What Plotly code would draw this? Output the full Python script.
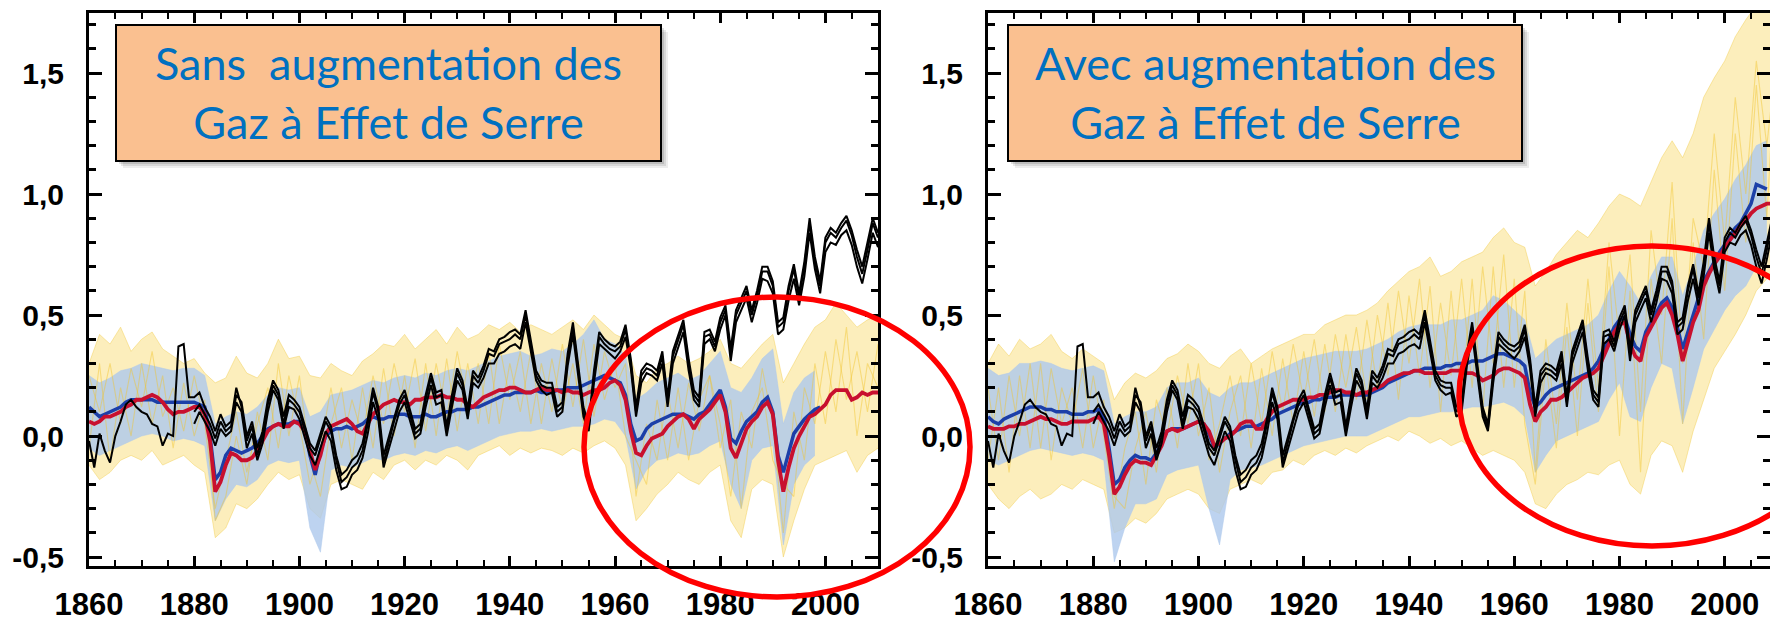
import plotly.graph_objects as go

# ---------------- data ----------------
years = list(range(1860, 2011))            # observations, annual
years_b = list(range(1880, 2011))          # second & third observational datasets
model_years = list(range(1860, 2011, 2))   # ensemble envelopes / members (2-year)
blue_years_L = list(range(1860, 2000))
blue_years_R = list(range(1860, 2009))
env_blue_years_L = list(range(1860, 1999, 2))
env_blue_years_R = list(range(1860, 2009, 2))

obs_a = [-0.02, -0.13, 0.01, -0.06, -0.11, 0.00, 0.06, 0.13, 0.15, 0.12,
         0.10, 0.09, 0.05, 0.04, -0.04, 0.01, 0.00, 0.37, 0.38, 0.16,
         0.16, 0.18, 0.12, 0.08, 0.02, 0.09, 0.04, 0.06, 0.20, 0.12,
         -0.02, 0.04, -0.08, 0.00, 0.13, 0.21, 0.17, 0.05, 0.15, 0.13,
         0.10, 0.02, -0.05, -0.08, -0.01, 0.06, 0.02, -0.10, -0.19, -0.17,
         -0.13, -0.11, -0.06, 0.05, 0.18, 0.10, -0.11, -0.02, 0.06, 0.13,
         0.17, 0.09, 0.01, 0.03, 0.15, 0.24, 0.16, 0.17, 0.02, 0.15,
         0.26, 0.21, 0.09, 0.25, 0.22, 0.27, 0.34, 0.33, 0.38, 0.39,
         0.40, 0.42, 0.40, 0.50, 0.38, 0.25, 0.21, 0.20, 0.20, 0.10,
         0.12, 0.32, 0.45, 0.27, 0.10, 0.03, 0.25, 0.41, 0.38, 0.36,
         0.35, 0.37, 0.44, 0.30, 0.10, 0.25, 0.28, 0.27, 0.25, 0.33,
         0.14, 0.33, 0.40, 0.46, 0.30, 0.17, 0.14, 0.41, 0.42, 0.37,
         0.47, 0.52, 0.34, 0.50, 0.55, 0.60, 0.50, 0.58, 0.68, 0.68,
         0.62, 0.45, 0.47, 0.60, 0.69, 0.57, 0.70, 0.88, 0.72, 0.62,
         0.80, 0.84, 0.82, 0.86, 0.89, 0.83, 0.74, 0.67, 0.77, 0.88,
         0.82]

obs_b = [0.05, 0.10, 0.06, 0.02, -0.04, 0.03, 0.00, 0.02, 0.14, 0.10,
         -0.05, 0.01, -0.10, -0.03, 0.10, 0.19, 0.15, 0.03, 0.12, 0.11,
         0.07, -0.01, -0.08, -0.12, -0.05, 0.02, -0.02, -0.14, -0.22, -0.21,
         -0.16, -0.14, -0.09, 0.01, 0.14, 0.07, -0.13, -0.05, 0.03, 0.10,
         0.14, 0.07, -0.01, 0.01, 0.12, 0.21, 0.13, 0.14, 0.00, 0.12,
         0.23, 0.19, 0.07, 0.22, 0.20, 0.24, 0.30, 0.30, 0.34, 0.35,
         0.37, 0.38, 0.36, 0.47, 0.35, 0.23, 0.19, 0.17, 0.18, 0.08,
         0.10, 0.29, 0.42, 0.25, 0.08, 0.02, 0.22, 0.38, 0.36, 0.34,
         0.32, 0.35, 0.41, 0.28, 0.08, 0.22, 0.26, 0.25, 0.23, 0.30,
         0.12, 0.30, 0.37, 0.43, 0.27, 0.15, 0.12, 0.38, 0.40, 0.35,
         0.44, 0.50, 0.31, 0.47, 0.52, 0.57, 0.47, 0.55, 0.65, 0.64,
         0.59, 0.42, 0.44, 0.56, 0.65, 0.54, 0.66, 0.84, 0.69, 0.59,
         0.76, 0.80, 0.79, 0.83, 0.85, 0.79, 0.70, 0.63, 0.73, 0.84,
         0.78]

obs_c = [0.10, 0.13, 0.09, 0.05, -0.01, 0.06, 0.02, 0.04, 0.17, 0.14,
         0.00, 0.06, -0.05, 0.02, 0.15, 0.23, 0.19, 0.08, 0.17, 0.15,
         0.12, 0.04, -0.03, -0.06, 0.01, 0.08, 0.04, -0.08, -0.16, -0.14,
         -0.10, -0.08, -0.03, 0.07, 0.20, 0.12, -0.08, 0.00, 0.08, 0.15,
         0.19, 0.11, 0.03, 0.05, 0.17, 0.26, 0.18, 0.19, 0.04, 0.17,
         0.28, 0.23, 0.11, 0.27, 0.24, 0.29, 0.36, 0.35, 0.40, 0.41,
         0.43, 0.44, 0.42, 0.52, 0.40, 0.27, 0.23, 0.22, 0.22, 0.12,
         0.14, 0.34, 0.47, 0.29, 0.12, 0.05, 0.27, 0.43, 0.40, 0.38,
         0.37, 0.39, 0.46, 0.32, 0.12, 0.27, 0.30, 0.29, 0.27, 0.35,
         0.16, 0.35, 0.42, 0.48, 0.32, 0.19, 0.16, 0.43, 0.44, 0.39,
         0.49, 0.54, 0.36, 0.52, 0.57, 0.62, 0.52, 0.60, 0.70, 0.70,
         0.64, 0.47, 0.49, 0.62, 0.71, 0.59, 0.72, 0.90, 0.74, 0.64,
         0.82, 0.86, 0.84, 0.88, 0.91, 0.85, 0.77, 0.70, 0.80, 0.90,
         0.84]

# natural forcings only (left panel): multi-model means
red_L = [0.06, 0.05, 0.06, 0.08, 0.08, 0.09, 0.10, 0.12, 0.13, 0.15,
         0.15, 0.16, 0.17, 0.16, 0.14, 0.11, 0.09, 0.10, 0.10, 0.11,
         0.12, 0.12, 0.09, -0.02, -0.23, -0.19, -0.12, -0.07, -0.08, -0.10,
         -0.10, -0.09, -0.06, -0.02, 0.02, 0.04, 0.05, 0.04, 0.04, 0.06,
         0.05, 0.02, -0.06, -0.14, -0.08, 0.01, 0.04, 0.05, 0.06, 0.07,
         0.05, 0.02, 0.01, 0.05, 0.09, 0.11, 0.13, 0.14, 0.15, 0.14,
         0.14, 0.13, 0.15, 0.15, 0.16, 0.16, 0.16, 0.17, 0.16, 0.16,
         0.15, 0.15, 0.13, 0.12, 0.14, 0.16, 0.17, 0.18, 0.19, 0.19,
         0.20, 0.20, 0.19, 0.18, 0.18, 0.19, 0.20, 0.19, 0.19, 0.19,
         0.18, 0.19, 0.18, 0.18, 0.17, 0.18, 0.19, 0.19, 0.20, 0.22,
         0.23, 0.21, 0.15, 0.02, -0.07, -0.08, -0.04, -0.01, 0.00, 0.01,
         0.04, 0.06, 0.08, 0.09, 0.07, 0.03, 0.07, 0.09, 0.11, 0.14,
         0.17, 0.10, -0.05, -0.09, -0.03, 0.03, 0.06, 0.08, 0.12, 0.14,
         0.09, -0.10, -0.23, -0.13, -0.05, 0.00, 0.04, 0.08, 0.09, 0.11,
         0.13, 0.17, 0.19, 0.19, 0.19, 0.15, 0.16, 0.18, 0.17, 0.18,
         0.18]

blue_L = [0.12, 0.10, 0.08, 0.09, 0.10, 0.11, 0.12, 0.14, 0.15, 0.15,
          0.15, 0.15, 0.15, 0.14, 0.14, 0.14, 0.14, 0.14, 0.14, 0.14,
          0.14, 0.13, 0.12, 0.00, -0.18, -0.15, -0.08, -0.05, -0.06, -0.07,
          -0.06, -0.05, -0.03, 0.00, 0.03, 0.04, 0.05, 0.05, 0.05, 0.06,
          0.06, 0.03, -0.08, -0.16, -0.06, 0.00, 0.02, 0.03, 0.03, 0.04,
          0.03, 0.04, 0.05, 0.07, 0.08, 0.07, 0.07, 0.08, 0.08, 0.09,
          0.09, 0.08, 0.08, 0.08, 0.09, 0.08, 0.08, 0.09, 0.10, 0.10,
          0.11, 0.11, 0.11, 0.12, 0.12, 0.13, 0.14, 0.15, 0.16, 0.17,
          0.17, 0.18, 0.18, 0.18, 0.18, 0.19, 0.18, 0.18, 0.18, 0.19,
          0.19, 0.20, 0.20, 0.20, 0.21, 0.22, 0.23, 0.24, 0.25, 0.24,
          0.23, 0.22, 0.17, 0.05, -0.02, -0.01, 0.03, 0.05, 0.06, 0.07,
          0.08, 0.09, 0.09, 0.09, 0.08, 0.07, 0.09, 0.10, 0.13, 0.16,
          0.19, 0.12, -0.01, -0.03, 0.02, 0.06, 0.08, 0.10, 0.14, 0.16,
          0.10, -0.08, -0.15, -0.07, 0.01, 0.04, 0.07, 0.09, 0.11, 0.12]

# all forcings (right panel): multi-model means
red_R = [0.04, 0.03, 0.03, 0.03, 0.04, 0.04, 0.05, 0.05, 0.06, 0.07,
         0.08, 0.07, 0.07, 0.06, 0.05, 0.05, 0.06, 0.06, 0.06, 0.06,
         0.07, 0.08, 0.05, -0.08, -0.24, -0.21, -0.16, -0.12, -0.10, -0.11,
         -0.11, -0.12, -0.08, -0.04, 0.02, 0.03, 0.02, 0.03, 0.04, 0.05,
         0.06, 0.05, 0.02, -0.04, -0.03, -0.01, 0.00, 0.02, 0.05, 0.06,
         0.06, 0.03, 0.03, 0.07, 0.10, 0.12, 0.13, 0.14, 0.15, 0.15,
         0.15, 0.16, 0.16, 0.17, 0.17, 0.18, 0.19, 0.19, 0.18, 0.18,
         0.17, 0.18, 0.18, 0.19, 0.20, 0.21, 0.23, 0.24, 0.25, 0.26,
         0.26, 0.27, 0.27, 0.26, 0.26, 0.26, 0.26, 0.26, 0.27, 0.27,
         0.27, 0.26, 0.26, 0.25, 0.23, 0.24, 0.25, 0.27, 0.28, 0.28,
         0.27, 0.26, 0.24, 0.13, 0.06, 0.10, 0.12, 0.15, 0.15, 0.16,
         0.18, 0.20, 0.22, 0.24, 0.25, 0.26, 0.28, 0.33, 0.38, 0.43,
         0.46, 0.47, 0.38, 0.33, 0.31, 0.41, 0.45, 0.49, 0.53, 0.55,
         0.50, 0.42, 0.31, 0.39, 0.47, 0.52, 0.62, 0.67, 0.71, 0.74,
         0.78, 0.81, 0.84, 0.87, 0.89, 0.92, 0.94, 0.95, 0.96, 0.96,
         0.96]

blue_R = [0.08, 0.06, 0.05, 0.07, 0.08, 0.09, 0.10, 0.11, 0.12, 0.12,
          0.12, 0.11, 0.11, 0.10, 0.10, 0.10, 0.09, 0.09, 0.09, 0.10,
          0.10, 0.11, 0.08, -0.05, -0.20, -0.18, -0.13, -0.10, -0.08, -0.09,
          -0.09, -0.10, -0.07, -0.03, 0.02, 0.03, 0.03, 0.03, 0.04, 0.05,
          0.06, 0.05, 0.01, -0.05, -0.03, -0.01, 0.01, 0.02, 0.03, 0.04,
          0.04, 0.04, 0.05, 0.06, 0.07, 0.09, 0.10, 0.11, 0.12, 0.13,
          0.14, 0.14, 0.15, 0.15, 0.16, 0.16, 0.16, 0.17, 0.17, 0.17,
          0.17, 0.17, 0.17, 0.18, 0.19, 0.20, 0.22, 0.23, 0.24, 0.25,
          0.26, 0.27, 0.27, 0.28, 0.28, 0.28, 0.28, 0.29, 0.29, 0.30,
          0.30, 0.30, 0.31, 0.31, 0.31, 0.32, 0.33, 0.34, 0.34, 0.33,
          0.32, 0.31, 0.29, 0.18, 0.12, 0.14, 0.17, 0.19, 0.20, 0.21,
          0.22, 0.23, 0.24, 0.25, 0.26, 0.28, 0.31, 0.36, 0.40, 0.45,
          0.48, 0.49, 0.42, 0.37, 0.35, 0.43, 0.47, 0.51, 0.55, 0.57,
          0.53, 0.45, 0.36, 0.43, 0.50, 0.56, 0.64, 0.68, 0.72, 0.76,
          0.79, 0.83, 0.86, 0.88, 0.92, 0.96, 1.04, 1.03, 1.02]

# ensemble envelopes, left panel (natural forcings)
yel_hi_L = [0.30, 0.42, 0.38, 0.45, 0.35, 0.40, 0.43, 0.36, 0.33, 0.30,
            0.32, 0.26, 0.22, 0.24, 0.33, 0.26, 0.24, 0.30, 0.40, 0.32,
            0.33, 0.25, 0.24, 0.30, 0.27, 0.25, 0.31, 0.34, 0.38, 0.37,
            0.42, 0.36, 0.40, 0.44, 0.38, 0.45, 0.40, 0.42, 0.46, 0.44,
            0.47, 0.43, 0.46, 0.44, 0.42, 0.45, 0.48, 0.44, 0.50, 0.46,
            0.42, 0.40, 0.25, 0.22, 0.28, 0.30, 0.33, 0.30, 0.32, 0.35,
            0.40, 0.30, 0.28, 0.33, 0.38, 0.42, 0.22, 0.30, 0.38, 0.45,
            0.48, 0.55, 0.50, 0.45, 0.48, 0.50]
yel_lo_L = [-0.12, -0.18, -0.15, -0.10, -0.08, -0.10, -0.06, -0.12, -0.10, -0.08,
            -0.12, -0.15, -0.42, -0.38, -0.28, -0.30, -0.26, -0.20, -0.15, -0.18,
            -0.16, -0.30, -0.34, -0.20, -0.18, -0.20, -0.22, -0.15, -0.18, -0.12,
            -0.10, -0.14, -0.10, -0.12, -0.08, -0.10, -0.14, -0.08, -0.06, -0.04,
            -0.08, -0.05, -0.07, -0.05, -0.06, -0.08, -0.05, -0.07, -0.04, -0.02,
            -0.05, -0.12, -0.35, -0.30, -0.24, -0.20, -0.15, -0.18, -0.20, -0.15,
            -0.12, -0.35, -0.42, -0.22, -0.18, -0.20, -0.50, -0.35, -0.22, -0.12,
            -0.10, -0.08, -0.06, -0.15, -0.08, -0.05]
lb_hi_L = [0.25, 0.22, 0.24, 0.27, 0.28, 0.30, 0.29, 0.28, 0.27, 0.28,
           0.28, 0.25, 0.05, 0.08, 0.10, 0.09, 0.12, 0.17, 0.20, 0.19,
           0.20, 0.08, 0.10, 0.17, 0.18, 0.19, 0.21, 0.23, 0.22, 0.24,
           0.25, 0.24, 0.26, 0.25, 0.27, 0.28, 0.27, 0.29, 0.31, 0.33,
           0.34, 0.35, 0.33, 0.34, 0.36, 0.35, 0.38, 0.42, 0.48, 0.40,
           0.38, 0.33, 0.15, 0.18, 0.22, 0.24, 0.26, 0.23, 0.25, 0.30,
           0.35, 0.20, 0.18, 0.24, 0.32, 0.36, 0.05, 0.18, 0.24, 0.27]
lb_lo_L = [-0.05, -0.08, -0.06, -0.04, -0.02, 0.00, 0.01, 0.00, -0.02, -0.01,
           -0.02, -0.04, -0.35, -0.26, -0.20, -0.21, -0.18, -0.12, -0.10, -0.11,
           -0.10, -0.38, -0.48, -0.14, -0.12, -0.13, -0.11, -0.09, -0.10, -0.08,
           -0.07, -0.08, -0.06, -0.07, -0.05, -0.04, -0.06, -0.04, -0.02, 0.00,
           0.01, 0.02, 0.02, 0.03, 0.02, 0.03, 0.04, 0.04, 0.05, 0.07,
           0.06, 0.00, -0.22, -0.14, -0.10, -0.09, -0.07, -0.08, -0.07, -0.04,
           -0.02, -0.20, -0.30, -0.10, -0.05, -0.04, -0.45, -0.20, -0.12, -0.08]
# two individual ensemble members drawn on top (left panel)
mem1_L = [0.25, 0.10, 0.30, 0.05, 0.28, 0.12, 0.35, 0.08, 0.20, 0.02,
          0.25, 0.05, -0.30, -0.10, 0.10, -0.15, 0.05, 0.20, -0.05, 0.25,
          0.05, -0.20, -0.05, 0.20, -0.05, 0.15, 0.00, 0.25, 0.05, 0.30,
          0.10, 0.32, 0.02, 0.30, 0.08, 0.35, 0.12, 0.30, 0.05, 0.38,
          0.15, 0.35, 0.05, 0.30, 0.10, 0.38, 0.12, 0.40, 0.08, 0.35,
          0.20, 0.30, -0.25, 0.05, -0.10, 0.18, -0.05, 0.22, 0.02, 0.25,
          0.05, -0.25, 0.10, -0.05, 0.28, 0.05, -0.40, 0.10, -0.10, 0.30,
          0.05, 0.40, 0.15, 0.35, 0.10, 0.38]
mem2_L = [-0.05, 0.30, -0.10, 0.20, 0.00, 0.30, 0.05, 0.25, -0.05, 0.22,
          0.00, 0.15, -0.35, -0.25, 0.00, -0.20, 0.10, -0.10, 0.30, 0.00,
          0.25, -0.10, -0.25, 0.05, 0.20, -0.10, 0.20, -0.05, 0.28, 0.00,
          0.25, -0.05, 0.30, 0.00, 0.32, 0.02, 0.30, 0.05, 0.35, 0.05,
          0.30, 0.10, 0.35, 0.05, 0.32, 0.10, 0.30, 0.05, 0.38, 0.15,
          0.30, 0.00, -0.10, -0.20, 0.15, -0.10, 0.20, -0.10, 0.15, 0.25,
          -0.05, 0.15, -0.30, 0.10, 0.20, -0.10, -0.20, -0.25, 0.20, 0.05,
          0.35, 0.10, 0.45, 0.00, 0.30, 0.20]

# ensemble envelopes, right panel (all forcings)
yel_hi_R = [0.30, 0.38, 0.33, 0.40, 0.36, 0.38, 0.42, 0.35, 0.32, 0.36,
            0.33, 0.30, 0.15, 0.22, 0.26, 0.24, 0.27, 0.32, 0.34, 0.38,
            0.35, 0.30, 0.28, 0.33, 0.36, 0.30, 0.33, 0.36, 0.38, 0.40,
            0.42, 0.42, 0.46, 0.48, 0.50, 0.50, 0.52, 0.55, 0.60, 0.64,
            0.68, 0.70, 0.74, 0.66, 0.68, 0.72, 0.74, 0.76, 0.82, 0.86,
            0.80, 0.78, 0.62, 0.68, 0.75, 0.80, 0.85, 0.82, 0.88, 0.95,
            1.00, 0.98, 0.95, 1.05, 1.15, 1.22, 1.15, 1.25, 1.40, 1.48,
            1.55, 1.65, 1.72, 1.78, 1.80, 1.80]
yel_lo_R = [-0.20, -0.26, -0.30, -0.25, -0.22, -0.26, -0.24, -0.20, -0.22, -0.18,
            -0.20, -0.22, -0.40, -0.38, -0.34, -0.36, -0.32, -0.26, -0.24, -0.22,
            -0.24, -0.30, -0.32, -0.22, -0.20, -0.18, -0.20, -0.15, -0.14, -0.10,
            -0.12, -0.08, -0.06, -0.08, -0.05, -0.07, -0.04, -0.02, 0.00, -0.02,
            0.02, 0.00, -0.03, -0.01, -0.04, -0.02, -0.05, -0.08, -0.06, -0.08,
            -0.10, -0.15, -0.28, -0.30, -0.24, -0.20, -0.18, -0.15, -0.16, -0.12,
            -0.10, -0.20, -0.24, -0.08, -0.02, -0.04, -0.15, 0.02, 0.15, 0.28,
            0.35, 0.42, 0.50, 0.60, 0.65, 0.70]
lb_hi_R = [0.28, 0.25, 0.26, 0.30, 0.30, 0.31, 0.30, 0.28, 0.27, 0.28,
           0.29, 0.27, 0.05, 0.08, 0.10, 0.10, 0.12, 0.20, 0.22, 0.22,
           0.24, 0.18, 0.16, 0.20, 0.22, 0.22, 0.24, 0.26, 0.28, 0.30,
           0.32, 0.33, 0.34, 0.35, 0.35, 0.35, 0.36, 0.38, 0.40, 0.43,
           0.45, 0.46, 0.46, 0.46, 0.48, 0.48, 0.50, 0.52, 0.58, 0.56,
           0.52, 0.48, 0.32, 0.36, 0.40, 0.42, 0.44, 0.46, 0.50, 0.60,
           0.68, 0.62, 0.55, 0.66, 0.74, 0.74, 0.58, 0.70, 0.85, 0.92,
           0.98, 1.06, 1.12, 1.20, 1.22]
lb_lo_R = [-0.10, -0.12, -0.10, -0.08, -0.06, -0.05, -0.06, -0.07, -0.08, -0.07,
           -0.08, -0.10, -0.52, -0.38, -0.28, -0.28, -0.26, -0.16, -0.14, -0.13,
           -0.12, -0.30, -0.45, -0.18, -0.14, -0.13, -0.12, -0.10, -0.08, -0.06,
           -0.04, -0.03, -0.02, -0.01, 0.00, 0.00, 0.00, 0.02, 0.04, 0.06,
           0.08, 0.08, 0.09, 0.10, 0.10, 0.11, 0.12, 0.12, 0.13, 0.14,
           0.12, 0.08, -0.15, -0.08, -0.02, 0.00, 0.02, 0.04, 0.06, 0.15,
           0.22, 0.08, 0.06, 0.20, 0.30, 0.28, 0.05, 0.20, 0.36, 0.44,
           0.52, 0.58, 0.62, 0.70, 0.74]
mem1_R = [0.20, -0.10, 0.25, 0.00, 0.30, -0.05, 0.28, 0.05, 0.20, -0.05,
          0.25, 0.00, -0.30, -0.05, 0.10, -0.20, 0.15, 0.00, 0.25, 0.05,
          0.30, -0.10, 0.05, 0.25, 0.00, 0.30, 0.05, 0.35, 0.10, 0.38,
          0.15, 0.40, 0.10, 0.42, 0.20, 0.45, 0.15, 0.50, 0.25, 0.60,
          0.30, 0.65, 0.20, 0.55, 0.25, 0.65, 0.20, 0.70, 0.30, 0.75,
          0.20, 0.60, -0.15, 0.40, 0.05, 0.55, 0.15, 0.65, 0.20, 0.80,
          0.40, 0.75, 0.10, 0.85, 0.50, 1.05, 0.30, 0.90, 0.70, 1.25,
          0.80, 1.40, 1.00, 1.55, 1.20, 1.60]
mem2_R = [-0.10, 0.20, -0.15, 0.25, -0.05, 0.30, -0.10, 0.20, 0.05, 0.28,
          -0.05, 0.15, -0.25, -0.30, -0.05, 0.10, -0.15, 0.20, -0.05, 0.30,
          0.00, 0.20, -0.15, 0.10, 0.25, -0.05, 0.28, 0.00, 0.32, 0.05,
          0.35, 0.08, 0.38, 0.10, 0.42, 0.15, 0.48, 0.20, 0.55, 0.15,
          0.58, 0.25, 0.62, 0.10, 0.60, 0.15, 0.65, 0.10, 0.70, 0.20,
          0.65, 0.05, -0.20, 0.30, -0.05, 0.45, 0.00, 0.55, 0.10, 0.70,
          0.00, 0.60, -0.15, 0.65, 0.30, 0.90, 0.05, 0.80, 0.40, 1.10,
          0.60, 1.25, 0.80, 1.45, 0.90, 1.70]

y_tickvals = [-0.5, 0.0, 0.5, 1.0, 1.5]
y_ticktext = ["-0,5", "0,0", "0,5", "1,0", "1,5"]
x_tickvals = [1860, 1880, 1900, 1920, 1940, 1960, 1980, 2000]
x_ticktext = ["1860", "1880", "1900", "1920", "1940", "1960", "1980", "2000"]

titles = ["Sans\u00a0 augmentation des<br>Gaz à Effet de Serre",
          "Avec augmentation des<br>Gaz à Effet de Serre"]

# ---------------- styling ----------------
W, H = 1770, 626
YEL_FILL = "rgba(247, 210, 80, 0.38)"
LB_FILL = "rgba(172, 200, 236, 0.80)"
BLUE = "#1c3fa8"
RED = "#c8102e"
LABEL_FONT = "Liberation Sans, Arial, sans-serif"

fig = go.Figure()


def add_panel(xa, ya, yhi, ylo, lbhi, lblo, env_lb_years, members, blue_y, blue, red):
    fig.add_trace(go.Scatter(x=model_years, y=ylo, mode="lines", line=dict(width=0.8, color="rgba(240,200,60,0.5)"),
                             xaxis=xa, yaxis=ya, showlegend=False, hoverinfo="skip"))
    fig.add_trace(go.Scatter(x=model_years, y=yhi, mode="lines", line=dict(width=0.8, color="rgba(240,200,60,0.5)"),
                             fill="tonexty", fillcolor=YEL_FILL,
                             xaxis=xa, yaxis=ya, showlegend=False, hoverinfo="skip"))
    fig.add_trace(go.Scatter(x=env_lb_years, y=lblo, mode="lines", line=dict(width=0.6, color="rgba(172,200,236,0.8)"),
                             xaxis=xa, yaxis=ya, showlegend=False, hoverinfo="skip"))
    fig.add_trace(go.Scatter(x=env_lb_years, y=lbhi, mode="lines", line=dict(width=0.6, color="rgba(172,200,236,0.8)"),
                             fill="tonexty", fillcolor=LB_FILL,
                             xaxis=xa, yaxis=ya, showlegend=False, hoverinfo="skip"))
    for m in members:
        fig.add_trace(go.Scatter(x=model_years, y=m, mode="lines",
                                 line=dict(width=1.1, color="rgba(242,196,40,0.45)"),
                                 xaxis=xa, yaxis=ya, showlegend=False, hoverinfo="skip"))
    fig.add_trace(go.Scatter(x=blue_y, y=blue, mode="lines", line=dict(width=3.5, color=BLUE),
                             xaxis=xa, yaxis=ya, showlegend=False))
    fig.add_trace(go.Scatter(x=years, y=red, mode="lines", line=dict(width=3.8, color=RED),
                             xaxis=xa, yaxis=ya, showlegend=False))
    for xs, ys in ((years_b, obs_b), (years_b, obs_c), (years, obs_a)):
        fig.add_trace(go.Scatter(x=xs, y=ys, mode="lines", line=dict(width=2.0, color="black"),
                                 xaxis=xa, yaxis=ya, showlegend=False))


add_panel("x", "y", yel_hi_L, yel_lo_L, lb_hi_L, lb_lo_L, env_blue_years_L, (mem1_L, mem2_L),
          blue_years_L, blue_L, red_L)
add_panel("x2", "y2", yel_hi_R, yel_lo_R, lb_hi_R, lb_lo_R, env_blue_years_R, (mem1_R, mem2_R),
          blue_years_R, blue_R, red_R)

y_dom = [1 - 566 / H, 1 - 13 / H]
y_rng = [-0.537, 1.748]

xcommon = dict(tickmode="array", tickvals=x_tickvals, ticktext=x_ticktext,
               ticks="inside", ticklen=10, tickwidth=2.5, tickcolor="black",
               minor=dict(tickmode="linear", tick0=1860, dtick=5, ticks="inside", ticklen=6,
                          tickwidth=2, tickcolor="black"),
               showline=True, linewidth=3, linecolor="black", mirror="allticks",
               showgrid=False, zeroline=False, automargin=False,
               tickfont=dict(family=LABEL_FONT, size=31, color="black", weight="bold"),
               ticklabelstandoff=9, fixedrange=True)
ycommon = dict(tickmode="array", tickvals=y_tickvals, ticktext=y_ticktext,
               ticks="inside", ticklen=13, tickwidth=3, tickcolor="black",
               minor=dict(tickmode="linear", tick0=0, dtick=0.1, ticks="inside", ticklen=7,
                          tickwidth=2.5, tickcolor="black"),
               showline=True, linewidth=3, linecolor="black", mirror="allticks",
               showgrid=False, zeroline=False, range=y_rng, domain=y_dom, automargin=False,
               tickfont=dict(family=LABEL_FONT, size=30, color="black", weight="bold"),
               ticklabelstandoff=16, fixedrange=True)

fig.update_layout(
    width=W, height=H,
    margin=dict(l=0, r=0, t=0, b=0, autoexpand=False),
    paper_bgcolor="white", plot_bgcolor="white",
    xaxis=dict(domain=[89 / W, 878 / W], range=[1860, 2010], anchor="y", **xcommon),
    yaxis=dict(anchor="x", **ycommon),
    xaxis2=dict(domain=[988 / W, 1.0], range=[1860, 2008.6], anchor="y2", **xcommon),
    yaxis2=dict(anchor="x2", **ycommon),
)

shapes = []
annotations = []
boxes = [(116, 661), (1008, 1522)]
for (bx0, bx1), txt in zip(boxes, titles):
    by0, by1 = 25, 161
    for off, op in ((7, 0.07), (5, 0.09), (3, 0.12)):
        shapes.append(dict(type="rect", xref="paper", yref="paper",
                           x0=(bx0 + off) / W, x1=(bx1 + off) / W,
                           y0=1 - (by1 + off) / H, y1=1 - (by0 + off) / H,
                           fillcolor=f"rgba(0,0,0,{op})", line=dict(width=0), layer="above"))
    shapes.append(dict(type="rect", xref="paper", yref="paper",
                       x0=bx0 / W, x1=bx1 / W, y0=1 - by1 / H, y1=1 - by0 / H,
                       fillcolor="#FAC090", line=dict(color="black", width=2), layer="above"))
    annotations.append(dict(x=(bx0 + bx1) / 2 / W, y=1 - 93 / H, xref="paper", yref="paper",
                            text=txt, showarrow=False, xanchor="center", yanchor="middle",
                            align="center",
                            font=dict(family="Lato, Open Sans, sans-serif", size=45, color="#0070C0")))

for cx, cy in ((777, 447), (1652, 396)):
    shapes.append(dict(type="circle", xref="paper", yref="paper",
                       x0=(cx - 193) / W, x1=(cx + 193) / W,
                       y0=1 - (cy + 150) / H, y1=1 - (cy - 150) / H,
                       line=dict(color="#FF0000", width=5.5), layer="above"))

fig.update_layout(shapes=shapes, annotations=annotations)
fig.write_html("out.html")
